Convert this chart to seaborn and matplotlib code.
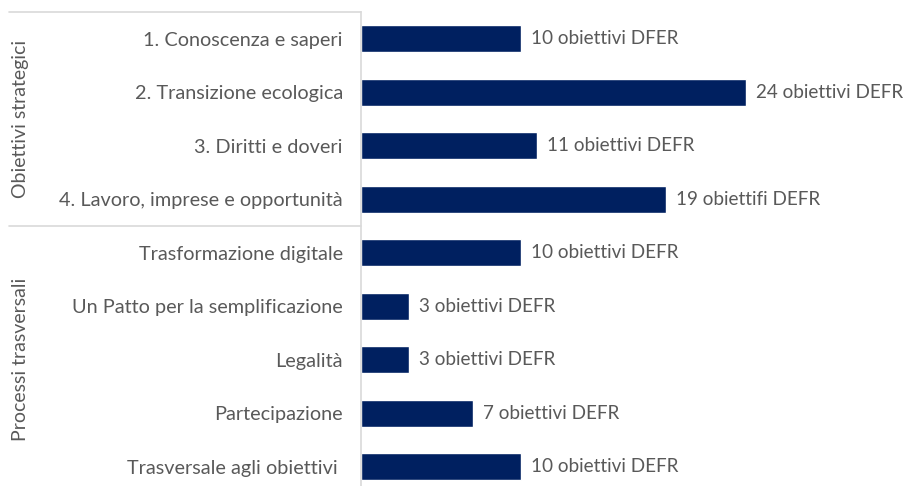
import matplotlib
matplotlib.use("Agg")
import matplotlib.pyplot as plt
import matplotlib.transforms as mtrans
import seaborn as sns
import pandas as pd

categories = [
    "1. Conoscenza e saperi",
    "2. Transizione ecologica",
    "3. Diritti e doveri",
    "4. Lavoro, imprese e opportunità",
    "Trasformazione digitale",
    "Un Patto per la semplificazione",
    "Legalità",
    "Partecipazione",
    "Trasversale agli obiettivi ",
]
values = [10, 24, 11, 19, 10, 3, 3, 7, 10]
value_labels = [
    "10 obiettivi DFER",
    "24 obiettivi DEFR",
    "11 obiettivi DEFR",
    "19 obiettifi DEFR",
    "10 obiettivi DEFR",
    "3 obiettivi DEFR",
    "3 obiettivi DEFR",
    "7 obiettivi DEFR",
    "10 obiettivi DEFR",
]
groups = ["Obiettivi strategici", "Processi trasversali"]
group_sizes = [4, 5]

sns.set_theme(style="white")
FONT = ["Lato", "DejaVu Sans"]
plt.rcParams["font.family"] = FONT
TXT = "#595959"
GRID = "#d9d9d9"
BAR = "#002060"

df = pd.DataFrame({"cat": categories, "val": values})

W, H = 904, 486
fig = plt.figure(figsize=(W / 100, H / 100), dpi=100)
ax_left = 361 / W
ax_top = 1 - 12 / H
ax_bottom = (H - 493.5) / H
ax = fig.add_axes([ax_left, ax_bottom, 0.59, ax_top - ax_bottom])

sns.barplot(data=df, x="val", y="cat", orient="h", color=BAR, width=0.5,
            saturation=1, ax=ax)
ax.set_xlim(0, 24 * (0.59 * W) / (746 - 361))
ax.set_ylim(len(categories) - 0.5, -0.5)
ax.set_xlabel("")
ax.set_ylabel("")
ax.set_xticks([])
ax.tick_params(axis="y", length=0, pad=13, labelsize=14.3, labelcolor=TXT)
for s in ["top", "right", "bottom"]:
    ax.spines[s].set_visible(False)
ax.spines["left"].set_color(GRID)
ax.spines["left"].set_linewidth(1.2)

ax.bar_label(ax.containers[0], labels=value_labels, padding=7,
             fontsize=13.6, color=TXT)
ax.set_ylim(len(categories) - 0.5, -0.5)

# separators and group labels
tr = mtrans.blended_transform_factory(fig.transFigure, ax.transData)
start = -0.5
for g, n in zip(groups, group_sizes):
    ax.plot([9 / W, ax_left], [start, start], transform=tr, color=GRID,
            lw=1.2, clip_on=False)
    center = start + n / 2
    fig.text(21 / W, center, g, rotation=90, ha="center", va="center",
             fontsize=14, color=TXT, transform=tr)
    start += n

fig.savefig("out.png", dpi=100)
